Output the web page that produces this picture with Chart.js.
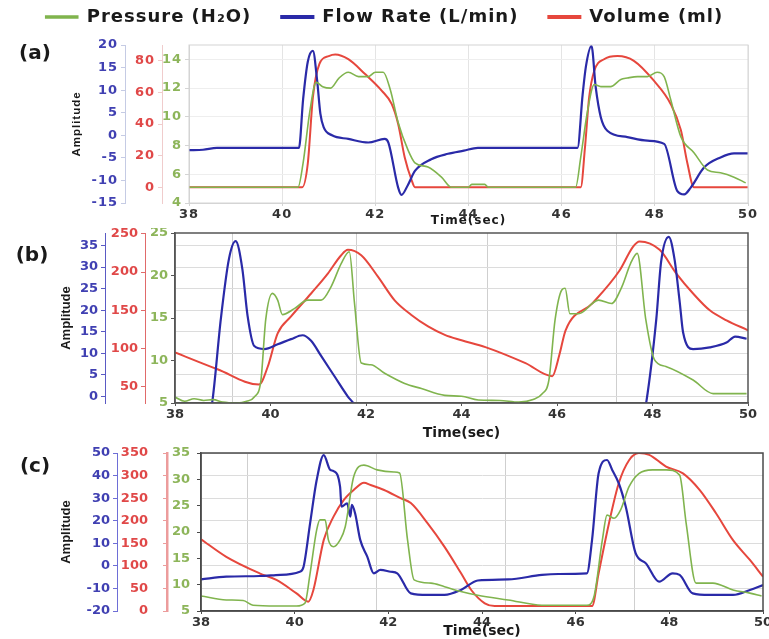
<!DOCTYPE html>
<html>
<head>
<meta charset="utf-8">
<script src="https://cdn.jsdelivr.net/npm/chart.js@4.4.1/dist/chart.umd.min.js"></script>
<style>
  html, body { margin: 0; padding: 0; background: #fff; }
  #wrap { position: relative; width: 769px; height: 639px; overflow: hidden; }
  #wrap canvas { position: absolute; left: 0; }
</style>
</head>
<body>
<div id="wrap">
  <canvas id="chartA" width="769" height="250" style="top:-22px"></canvas>
  <canvas id="chartB" width="769" height="213" style="top:228px"></canvas>
  <canvas id="chartC" width="769" height="199" style="top:440px"></canvas>
</div>
<script>
// --- shared ticks ---
const timeTicks = [38, 40, 42, 44, 46, 48, 50];

// --- (a) ---
const aFlowTicks = [-15, -10, -5, 0, 5, 10, 15, 20];
const aVolumeTicks = [0, 20, 40, 60, 80];
const aPressureTicks = [4, 6, 8, 10, 12, 14];

const aFlowT = [38, 38.3, 38.6, 40.36, 40.45, 40.55, 40.66, 40.75, 40.82, 40.89, 41.07, 41.42, 41.85, 42.2, 42.28, 42.49, 42.56, 42.7, 42.85, 43.2, 43.56, 43.9, 44.2, 46.34, 46.45, 46.52, 46.64, 46.73, 46.84, 46.98, 47.41, 47.84, 48.2, 48.48, 48.63, 48.77, 49.06, 49.41, 49.7, 50];
const aFlow = [-3.3, -3.2, -2.8, -2.8, 8, 16.3, 18.7, 12.2, 4.8, 1.8, 0, -0.8, -1.6, -0.8, -1.6, -11.6, -13.2, -11, -7.9, -5.3, -4.1, -3.4, -2.8, -2.8, 9, 15.2, 19.8, 10.7, 4.0, 1.0, -0.4, -1.2, -1.9, -12.3, -13.1, -11.6, -7.1, -4.9, -4.0, -4.0];

const aVolumeT = [38, 40.43, 40.55, 40.66, 40.8, 41.0, 41.14, 41.42, 41.78, 42.14, 42.35, 42.49, 42.63, 42.78, 42.85, 46.41, 46.5, 46.59, 46.7, 46.91, 47.2, 47.55, 47.98, 48.34, 48.56, 48.7, 48.84, 50];
const aVolume = [0, 0, 15, 57, 78, 83, 84, 81, 71.6, 61, 52.7, 40, 19, 4.4, 0, 0, 25, 57, 73.7, 81, 83, 80, 67.4, 52.7, 36, 15, 0, 0];

const aPressureT = [38, 40.34, 40.45, 40.59, 40.73, 40.87, 41.04, 41.22, 41.42, 41.64, 41.85, 42.0, 42.17, 42.32, 42.49, 42.7, 42.85, 43.13, 43.42, 43.63, 44.0, 44.07, 44.35, 44.42, 46.3, 46.41, 46.55, 46.7, 46.84, 47.05, 47.27, 47.41, 47.63, 47.84, 48.05, 48.2, 48.34, 48.56, 48.84, 49.13, 49.41, 49.7, 49.95];
const aPressure = [5.1, 5.1, 6.8, 10.3, 12.4, 12.1, 12.0, 12.7, 13.1, 12.8, 12.8, 13.1, 13.1, 11.9, 9.6, 7.7, 6.8, 6.5, 5.8, 5.1, 5.1, 5.3, 5.3, 5.1, 5.1, 7.2, 10.3, 12.25, 12.1, 12.1, 12.6, 12.7, 12.8, 12.8, 13.1, 12.8, 11.2, 8.6, 7.5, 6.3, 6.1, 5.8, 5.4];

// --- (b) ---
const bFlowTicks = [0, 5, 10, 15, 20, 25, 30, 35];
const bVolumeTicks = [50, 100, 150, 200, 250];
const bPressureTicks = [5, 10, 15, 20, 25];
const bGridTimes = [39.2, 41.8, 44.55, 47.25];

const bFlowT = [38, 38.7, 38.78, 38.96, 39.13, 39.27, 39.41, 39.52, 39.66, 39.87, 40.15, 40.43, 40.67, 40.85, 41.06, 41.34, 41.62, 41.76, 41.9, 47.8, 47.87, 48.08, 48.18, 48.34, 48.46, 48.57, 48.64, 48.85, 49.2, 49.55, 49.73, 49.97];
const bFlow = [-5, -5, -1.3, 18, 31.9, 36, 29.6, 18.7, 11.7, 11, 12.1, 13.3, 14.2, 12.9, 9.4, 4.7, 0, -1.9, -5, -5, -1.3, 18, 31.2, 37, 31.9, 21.9, 14.9, 11, 11.4, 12.5, 13.9, 13.4];

const bVolumeT = [38, 38.89, 39.76, 39.94, 40.15, 40.43, 40.85, 41.2, 41.48, 41.62, 41.9, 42.25, 42.6, 42.95, 43.3, 43.65, 44.0, 44.5, 45.34, 45.9, 46.05, 46.18, 46.74, 47.31, 47.59, 47.73, 48.15, 48.5, 48.85, 49.2, 49.55, 50];
const bVolume = [95, 73, 53, 76, 120, 142, 172, 198, 222, 229, 222, 194, 163, 144, 129, 118, 111, 102, 81, 64, 92, 124, 159, 202, 233, 240, 229, 198, 172, 150, 137, 124];

const bPressureT = [38, 38.2, 38.4, 38.6, 38.8, 39.0, 39.3, 39.5, 39.66, 39.8, 39.9, 40.04, 40.15, 40.25, 40.5, 40.78, 41.06, 41.27, 41.48, 41.65, 41.76, 41.9, 42.1, 42.39, 42.81, 43.16, 43.65, 44.0, 44.35, 44.8, 45.2, 45.5, 45.69, 45.83, 45.96, 46.1, 46.17, 46.27, 46.45, 46.87, 47.14, 47.36, 47.54, 47.68, 47.86, 48.04, 48.28, 48.85, 49.27, 49.97];
const bPressure = [5.7, 5.2, 5.5, 5.3, 5.4, 5.1, 5.0, 5.2, 5.7, 7.7, 14.8, 17.9, 17.1, 15.4, 16.1, 17.1, 17.1, 18.7, 21.4, 22.8, 16.7, 9.7, 9.5, 8.5, 7.3, 6.7, 5.9, 5.8, 5.35, 5.3, 5.1, 5.4, 6.1, 7.7, 14.8, 18.3, 18.5, 15.5, 15.5, 17.1, 16.7, 18.7, 21.4, 22.6, 14.8, 10.1, 9.3, 7.7, 6.1, 6.1];

// --- (c) ---
const cFlowTicks = [-20, -10, 0, 10, 20, 30, 40, 50];
const cVolumeTicks = [0, 50, 100, 150, 200, 250, 300, 350];
const cPressureTicks = [5, 10, 15, 20, 25, 30, 35];
const cGridTimes = [39.0, 41.75, 44.5, 47.25];

const cFlowT = [38, 38.54, 39.25, 39.6, 40.11, 40.19, 40.33, 40.47, 40.62, 40.76, 40.83, 40.97, 41.0, 41.12, 41.19, 41.22, 41.29, 41.4, 41.55, 41.69, 41.83, 42.05, 42.19, 42.48, 42.84, 43.2, 43.55, 43.91, 44.56, 45.28, 45.63, 46.24, 46.35, 46.49, 46.67, 46.78, 46.92, 47.07, 47.28, 47.5, 47.78, 48.07, 48.22, 48.5, 48.86, 49.36, 49.72, 50];
const cFlow = [-6, -4.8, -4.5, -4.1, -2.6, -0.4, 18.9, 38, 49.1, 42.5, 42, 35, 26.2, 27.7, 21.8, 27, 23.3, 11.5, 4.1, -3.3, -1.8, -2.6, -3.3, -12.2, -12.9, -12.9, -10.7, -6.5, -6, -4, -3.6, -3.3, 11.5, 41, 46.9, 42.5, 36.6, 26.2, 5.6, 1.1, -7, -3.3, -4, -12.2, -12.9, -12.9, -10.7, -8.5];

const cVolumeT = [38, 38.54, 39.25, 39.61, 40.04, 40.29, 40.4, 40.62, 40.83, 41.05, 41.26, 41.48, 41.62, 41.91, 42.26, 42.48, 42.84, 43.2, 43.55, 43.77, 44.06, 44.27, 46.35, 46.49, 46.71, 46.92, 47.14, 47.35, 47.57, 47.93, 48.29, 48.65, 49.0, 49.36, 49.72, 50];
const cVolume = [159, 120, 83.5, 68.7, 39, 20.7, 46.5, 157, 209, 246, 268, 284, 279, 268, 250, 239, 194, 142, 84, 46.5, 17, 11, 11, 83.5, 194, 283, 334, 350, 346, 320, 305, 268, 216, 157, 113, 76];

const cPressureT = [38, 38.54, 38.9, 39.11, 39.61, 40.04, 40.22, 40.33, 40.47, 40.54, 40.65, 40.72, 40.83, 40.97, 41.08, 41.26, 41.48, 41.76, 42.12, 42.24, 42.41, 42.55, 42.91, 43.2, 43.55, 43.91, 44.56, 45.28, 46.24, 46.39, 46.57, 46.67, 46.82, 46.96, 47.14, 47.35, 47.64, 47.93, 48.22, 48.36, 48.57, 48.93, 49.36, 49.72, 49.97];
const cPressure = [7.85, 7.1, 7.0, 6.1, 5.95, 5.95, 6.5, 12.2, 20.4, 22.3, 22.3, 18.5, 17.2, 18.5, 21, 30.5, 32.7, 31.8, 31.4, 31.2, 18.5, 10.9, 10.3, 9.6, 8.7, 8.0, 7.1, 6.1, 6.1, 7.7, 18.5, 23.2, 22.6, 24.2, 28.6, 31.1, 31.8, 31.8, 30.8, 21.6, 10.3, 10.3, 9.0, 8.4, 7.85];

// colours
const GREEN = '#80b44e', BLUE = '#2a2aa8', RED = '#e6473d';
const GREEN_TXT = '#8db55a', BLUE_TXT = '#4040b2', RED_TXT = '#e04848';

const tickFont = { family: 'DejaVu Sans', size: 13, weight: 'bold' };
const pts = (t, v) => t.map((x, i) => ({ x, y: v[i] }));
const useTicks = list => scale => { scale.ticks = list.map(value => ({ value })); };

function series(pres, flow, vol) {
  const base = { pointRadius: 0, fill: false, cubicInterpolationMode: 'monotone' };
  return [
    { ...base, label: 'Pressure (H\u2082O)', data: pres, borderColor: GREEN, backgroundColor: GREEN, borderWidth: 1.6, yAxisID: 'yPres' },
    { ...base, label: 'Flow Rate (L/min)', data: flow, borderColor: BLUE, backgroundColor: BLUE, borderWidth: 2.2, yAxisID: 'yFlow' },
    { ...base, label: 'Volume (ml)', data: vol, borderColor: RED, backgroundColor: RED, borderWidth: 2, yAxisID: 'yVol' }
  ];
}

function yAxis(o) {
  return {
    position: 'left', min: o.min, max: o.max, weight: o.weight,
    afterBuildTicks: useTicks(o.ticks),
    afterFit: s => { s.width = o.width; s.paddingTop = 0; s.paddingBottom = 0; },
    ticks: { color: o.color, font: tickFont, padding: o.pad ?? 3 },
    grid: { drawOnChartArea: !!o.grid, color: o.grid || o.line, tickLength: 4, tickColor: o.line },
    border: { color: o.line, width: o.lineWidth || 1 },
    title: o.title ? {
      display: true, text: o.title, color: '#1a1a1a', padding: { top: o.titlePad || 0, bottom: 0 },
      font: { family: 'Liberation Sans', size: o.titleSize || 13, weight: 'bold' }
    } : { display: false }
  };
}

function xAxes(o) {
  return {
    x: {
      type: 'linear', position: 'bottom', min: 38, max: 50,
      afterBuildTicks: useTicks(timeTicks),
      afterFit: s => { s.height = o.height; s.paddingLeft = 0; s.paddingRight = 0; },
      ticks: { color: '#333', font: tickFont, padding: 1, maxRotation: 0, autoSkip: false },
      grid: { drawOnChartArea: o.regularGrid, color: '#e4e4e4', tickLength: 3, tickColor: o.frame },
      border: { color: o.frame, width: o.frameWidth },
      title: {
        display: true, text: 'Time(sec)', color: '#1a1a1a', padding: 0,
        font: { family: 'DejaVu Sans', size: o.titleSize, weight: 'bold', lineHeight: o.titleLH }
      }
    },
    xTop: {
      type: 'linear', position: 'top', min: 38, max: 50,
      afterBuildTicks: useTicks(o.gridTimes || []),
      afterFit: s => { s.height = o.topGap; s.paddingLeft = 0; s.paddingRight = 0; },
      ticks: { display: false },
      grid: { display: !!o.gridTimes, drawTicks: false, color: '#cfcfcf' },
      border: { display: false }
    }
  };
}

// frame round the plot, the panel letter, optional wider letter spacing
const panelDecor = {
  id: 'panelDecor',
  beforeUpdate(chart, args, opts) {
    chart.ctx.letterSpacing = opts.spacing || '0px';
  },
  beforeDraw(chart, args, opts) {
    chart.ctx.letterSpacing = opts.spacing || '0px';
  },
  afterDraw(chart, args, opts) {
    const { ctx, chartArea: a } = chart;
    ctx.save();
    ctx.strokeStyle = opts.frame;
    ctx.lineWidth = opts.frameWidth;
    ctx.strokeRect(a.left, a.top, a.right - a.left, a.bottom - a.top);
    ctx.letterSpacing = '0px';
    ctx.fillStyle = '#1a1a1a';
    ctx.font = 'bold 20px "DejaVu Sans"';
    ctx.textAlign = 'center';
    ctx.textBaseline = 'middle';
    ctx.fillText(opts.tag, opts.tagX, opts.tagY);
    ctx.restore();
  }
};

function makeChart(id, cfg) {
  return new Chart(document.getElementById(id), {
    type: 'line',
    data: { datasets: cfg.datasets },
    plugins: [panelDecor],
    options: {
      responsive: false, animation: false,
      layout: { padding: cfg.padding },
      plugins: {
        legend: cfg.legend || { display: false },
        tooltip: { enabled: false },
        panelDecor: cfg.decor
      },
      scales: { ...xAxes(cfg.x), ...cfg.y }
    }
  });
}

makeChart('chartA', {
  datasets: series(pts(aPressureT, aPressure), pts(aFlowT, aFlow), pts(aVolumeT, aVolume)),
  padding: { left: 0, right: 0, top: 0, bottom: 0 },
  legend: {
    display: true, position: 'top', align: 'center',
    labels: {
      color: '#1a1a1a', boxWidth: 32, boxHeight: 2, padding: 30,
      font: { family: 'DejaVu Sans', size: 18, weight: 'bold' }
    }
  },
  decor: { tag: '(a)', tagX: 35, tagY: 76, frame: '#d4d4d4', frameWidth: 1, spacing: '1px' },
  x: { height: 25, topGap: 9, regularGrid: true, frame: '#d4d4d4', frameWidth: 1, titleSize: 12, titleLH: 1.17 },
  y: {
    yFlow: yAxis({ min: -15, max: 20, ticks: aFlowTicks, weight: 3, width: 125, color: BLUE_TXT, line: '#c5cbe4', title: 'Amplitude', titleSize: 11.5, titlePad: 70 }),
    yVol: yAxis({ min: -10, max: 90, ticks: aVolumeTicks, weight: 2, width: 37, color: RED_TXT, line: '#f0cccc' }),
    yPres: yAxis({ min: 4, max: 15, ticks: aPressureTicks, weight: 1, width: 27, color: GREEN_TXT, line: '#d4d4d4', grid: '#eeeeee' }),
    // empty strip on the right so the plot stops short of the edge
    ySpace: {
      position: 'right', min: 0, max: 1,
      afterFit: s => { s.width = 21; s.paddingTop = 0; s.paddingBottom = 0; },
      ticks: { display: false }, grid: { display: false }, border: { display: false }
    }
  }
});

makeChart('chartB', {
  datasets: series(pts(bPressureT, bPressure), pts(bFlowT, bFlow), pts(bVolumeT, bVolume)),
  padding: { left: 59, right: 21, top: 0, bottom: 0 },
  decor: { tag: '(b)', tagX: 32, tagY: 28, frame: '#555555', frameWidth: 1.5 },
  x: { height: 38, topGap: 5, regularGrid: false, gridTimes: bGridTimes, frame: '#555555', frameWidth: 1.5, titleSize: 14, titleLH: 1.15 },
  y: {
    yFlow: yAxis({ min: -1.5, max: 37.9, ticks: bFlowTicks, weight: 3, width: 46, color: BLUE_TXT, line: '#5a5ac4', grid: '#dcdcdc', title: 'Amplitude' }),
    yVol: yAxis({ min: 29, max: 251, ticks: bVolumeTicks, weight: 2, width: 40, color: RED_TXT, line: '#e06a6a' }),
    yPres: yAxis({ min: 5, max: 25, ticks: bPressureTicks, weight: 1, width: 30, color: GREEN_TXT, line: '#555555', lineWidth: 1.5 })
  }
});

makeChart('chartC', {
  datasets: series(pts(cPressureT, cPressure), pts(cFlowT, cFlow), pts(cVolumeT, cVolume)),
  padding: { left: 59, right: 6, top: 0, bottom: 0 },
  decor: { tag: '(c)', tagX: 35, tagY: 27, frame: '#4a4a4a', frameWidth: 1.5 },
  x: { height: 28, topGap: 13, regularGrid: false, gridTimes: cGridTimes, frame: '#4a4a4a', frameWidth: 1.5, titleSize: 14, titleLH: 1.15 },
  y: {
    yFlow: yAxis({ min: -20, max: 50, ticks: cFlowTicks, weight: 3, width: 58, color: BLUE_TXT, line: '#6e6ed6', grid: '#dcdcdc', title: 'Amplitude' }),
    yVol: yAxis({ min: 0, max: 350, ticks: cVolumeTicks, weight: 2, width: 50, color: RED_TXT, line: '#ec9c9c', lineWidth: 2.5, pad: 15 }),
    yPres: yAxis({ min: 5, max: 35, ticks: cPressureTicks, weight: 1, width: 34, color: GREEN_TXT, line: '#4a4a4a', lineWidth: 1.5, pad: 7 })
  }
});
</script>
</body>
</html>
